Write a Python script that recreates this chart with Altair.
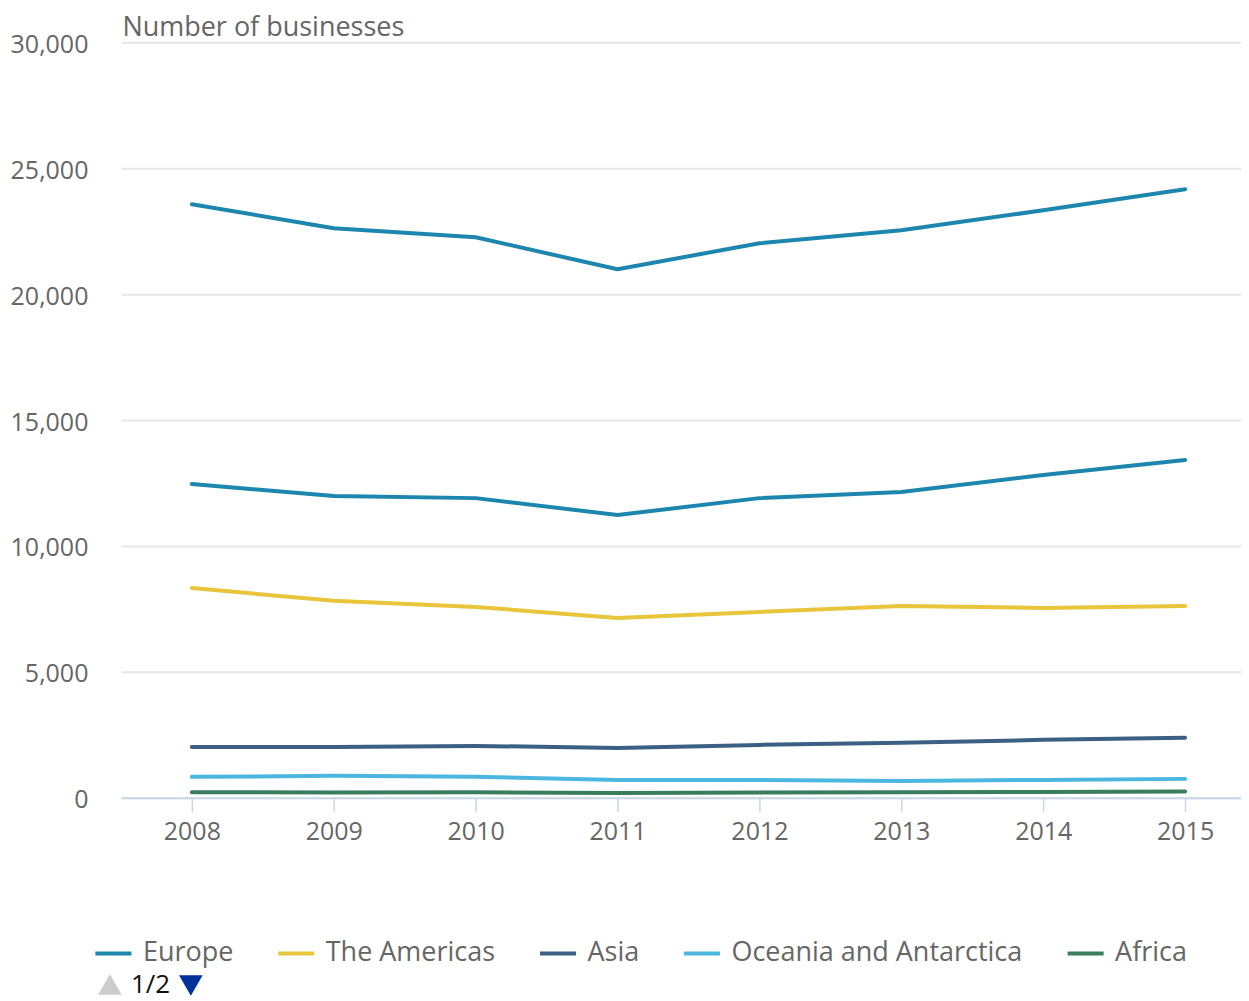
import altair as alt
import pandas as pd

years = [2008, 2009, 2010, 2011, 2012, 2013, 2014, 2015]
series_names = ["Europe", "The Americas", "Asia", "Oceania and Antarctica", "Africa"]
colors = ["#1d86ae", "#e8c53a", "#3c6084", "#4bb7e0", "#3a7d5c"]

europe = [12460, 11980, 11900, 11230, 11900, 12140, 12820, 13410]
americas = [8330, 7820, 7580, 7140, 7380, 7620, 7540, 7620]
asia = [2020, 2020, 2060, 1980, 2100, 2180, 2300, 2380]
oceania = [830, 870, 830, 710, 710, 670, 710, 750]
africa = [220, 210, 220, 190, 210, 220, 230, 250]
total = [23570, 22620, 22260, 20990, 22020, 22540, 23330, 24170]

rows = []
for name, vals in zip(series_names, [europe, americas, asia, oceania, africa]):
    for y, v in zip(years, vals):
        rows.append({"year": y, "series": name, "value": v})
df = pd.DataFrame(rows)
df_total = pd.DataFrame({"year": years, "series": "Total", "value": total})

FONT = "Open Sans"
GREY = "#666666"

x_scale = alt.Scale(domain=[2007.5, 2015.394], nice=False, zero=False)
x_enc = alt.X("year:Q", scale=x_scale,
              axis=alt.Axis(title=None, values=years, format="d", labelAngle=0,
                            labelFontSize=25, labelColor=GREY, labelFont=FONT,
                            domainColor="#ccd6eb", domainWidth=2,
                            tickColor="#ccd6eb", tickSize=14, tickWidth=1.5,
                            labelPadding=8, grid=False, labelFlush=False))
y_enc = alt.Y("value:Q",
              scale=alt.Scale(domain=[0, 30000], nice=False),
              axis=alt.Axis(title="Number of businesses", titleAngle=0, titleAlign="left",
                            titleBaseline="alphabetic", titleX=1, titleY=-7,
                            titleFontSize=27, titleFont=FONT, titleColor=GREY,
                            titleFontWeight="normal",
                            values=[0, 5000, 10000, 15000, 20000, 25000, 30000],
                            format=",.0f", labelFontSize=25, labelColor=GREY, labelFont=FONT,
                            ticks=False, domain=False, labelPadding=33, labelOffset=2,
                            gridColor="#e6e6e6", gridWidth=2))

lines = alt.Chart(df).mark_line(strokeWidth=4, strokeCap="round", strokeJoin="round").encode(
    x=x_enc,
    y=y_enc,
    color=alt.Color("series:N", sort=series_names,
                    scale=alt.Scale(domain=series_names, range=colors),
                    legend=alt.Legend(title=None, orient="none", direction="horizontal",
                                      legendX=-28, legendY=891, columns=5,
                                      columnPadding=36, symbolType="stroke",
                                      symbolSize=1300, symbolStrokeWidth=4,
                                      labelFontSize=27, labelColor=GREY, labelFont=FONT,
                                      labelOffset=9, labelLimit=400)),
    detail="series:N",
)

total_line = alt.Chart(df_total).mark_line(strokeWidth=4, strokeCap="round", strokeJoin="round",
                                           color="#1d86ae").encode(
    x="year:Q", y="value:Q", detail="series:N")

pager = pd.DataFrame({"label": ["1/2"]})
up = alt.Chart(pager).mark_point(shape="triangle-up", filled=True, size=560, color="#cccccc",
                                 opacity=1).encode(x=alt.value(-11), y=alt.value(943))
txt = alt.Chart(pager).mark_text(fontSize=26, font=FONT, color="#111111", align="left",
                                 baseline="middle").encode(x=alt.value(10), y=alt.value(943),
                                                           text="label:N")
down = alt.Chart(pager).mark_point(shape="triangle-down", filled=True, size=560, color="#003399",
                                   opacity=1).encode(x=alt.value(70), y=alt.value(944))

chart = alt.layer(lines, total_line, up, txt, down).properties(
    width=1121, height=756,
    padding={"left": 2, "top": 5, "right": 0, "bottom": 0},
).configure_view(stroke=None)

chart.save("out.html", embed_options={"renderer": "svg", "actions": False})
